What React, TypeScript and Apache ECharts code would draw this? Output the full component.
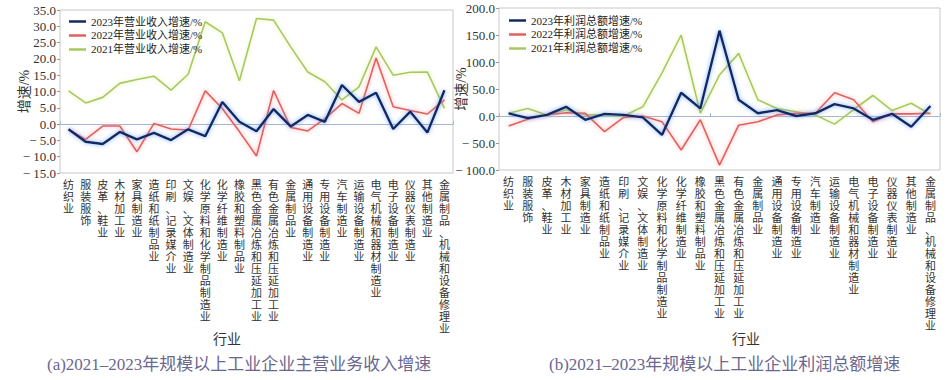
import React, { useEffect, useRef } from "react";
import * as echarts from "echarts";

const categories = [
  "纺织业", "服装服饰", "皮革、鞋业", "木材加工业", "家具制造业", "造纸和纸制品业",
  "印刷、记录媒介业", "文娱、文体制造业", "化学原料和化学制品制造业", "化学纤维制造业",
  "橡胶和塑料制品业", "黑色金属冶炼和压延加工业", "有色金属冶炼和压延加工业", "金属制品业",
  "通用设备制造业", "专用设备制造业", "汽车制造业", "运输设备制造业", "电气机械和器材制造业",
  "电子设备制造业", "仪器仪表制造业", "其他制造业", "金属制品、机械和设备修理业",
];

const revenue2023 = [-1.6, -5.4, -6.1, -2.4, -4.7, -2.7, -4.9, -1.6, -3.7, 6.8, 0.7, -2.2, 4.6, -0.7, 2.8, 0.7, 12.0, 6.8, 9.6, -1.5, 3.8, -2.6, 10.4];
const revenue2022 = [-1.6, -4.7, -0.6, -0.6, -8.5, 0.2, -1.5, -1.8, 10.2, 4.8, -2.3, -9.8, 10.3, -1.0, -2.1, 1.7, 6.3, 3.3, 20.3, 5.3, 4.2, 3.1, 7.4];
const revenue2021 = [10.2, 6.5, 8.2, 12.5, 13.7, 14.7, 10.4, 15.3, 31.4, 28.0, 13.3, 32.4, 31.9, 23.7, 16.0, 13.0, 7.4, 11.4, 23.7, 15.0, 15.9, 16.0, 4.8];

const profit2023 = [5, -4, 2, 17, -7, 4, 2, -2.5, -35, 43, 14, 158, 30, 5, 11, 0, 5, 22, 14, -7, 4, -20, 18.5];
const profit2022 = [-18.5, -6, 2, 6, 5, -29, -2.5, 0, -10.5, -63, -7, -91, -17, -10.5, 2, 5, 5, 43, 30, -10.5, 4, 4, 5];
const profit2021 = [5, 14, 2, 11, 2, 2, 0, 17, 80, 150, 5, 76, 116, 30, 14, 8, 2, -15, 12, 38, 10, 23.5, 3];

const revenueNames = ["2023年营业收入增速/%", "2022年营业收入增速/%", "2021年营业收入增速/%"];
const profitNames = ["2023年利润总额增速/%", "2022年利润总额增速/%", "2021年利润总额增速/%"];

const captionA = "(a)2021–2023年规模以上工业企业主营业务收入增速";
const captionB = "(b)2021–2023年规模以上工业企业利润总额增速";

const FONT = '"Liberation Serif", "Noto Sans CJK SC", serif';

export default function App() {
  const ref = useRef<HTMLDivElement>(null);
  useEffect(() => {
    document.body.style.margin = "0";
    const chart = echarts.init(ref.current!, null, { renderer: "svg" });

    const C2023 = "#17285e";
    const C2022 = "#e2605c";
    const C2021 = "#a8c860";

    const fmtY = (v: number) => (v < 0 ? "− " + Math.abs(v).toFixed(1) : v.toFixed(1));

    const labelAxis = (gridIndex: number) => ({
      type: "category",
      gridIndex,
      data: categories,
      position: "bottom",
      axisLine: { show: false, onZero: false },
      axisTick: { show: false },
      splitLine: { show: false },
      axisLabel: {
        interval: 0,
        margin: 6,
        fontFamily: FONT,
        fontSize: 11,
        lineHeight: 12,
        color: "#333",
        verticalAlign: "top",
        formatter: (v: string) => v.split("").join("\n"),
      },
    });
    const zeroAxis = (gridIndex: number) => ({
      type: "category",
      gridIndex,
      data: categories,
      position: "top",
      axisLine: { show: true, onZero: true, lineStyle: { color: "#a3b6d6", width: 1 } },
      axisTick: { show: true, inside: false, length: 3, lineStyle: { color: "#a3b6d6" } },
      axisLabel: { show: false },
      splitLine: { show: false },
    });
    const yAxis = (gridIndex: number, min: number, max: number, interval: number, nameGap: number) => ({
      type: "value",
      gridIndex,
      min,
      max,
      interval,
      name: "增速/%",
      nameLocation: "middle",
      nameGap,
      nameMoveOverlap: false,
      nameTextStyle: { fontFamily: FONT, fontSize: 14, color: "#333" },
      axisLine: { show: false },
      axisTick: { show: true, length: 3, lineStyle: { color: "#999" } },
      splitLine: { show: false },
      axisLabel: { margin: 4, fontFamily: FONT, fontSize: 13, color: "#333", formatter: fmtY },
    });

    const line = (name: string, data: number[], color: string, width: number, glow: string, xi: number, yi: number) => ({
      type: "line",
      name,
      data,
      xAxisIndex: xi,
      yAxisIndex: yi,
      symbol: "none",
      lineStyle: { color, width, shadowBlur: 4, shadowColor: glow },
      itemStyle: { color },
    });

    const legendBase = {
      orient: "vertical",
      icon: "rect",
      itemWidth: 17,
      itemHeight: 2.5,
      itemGap: 3,
      textStyle: { fontFamily: FONT, fontSize: 11, color: "#222" },
    };

    const option: any = {
      animation: false,
      grid: [
        { left: 60, top: 10, width: 393, height: 163, show: true, borderColor: "#c8c8c8", borderWidth: 1, backgroundColor: "transparent" },
        { left: 499, top: 8, width: 441, height: 162, show: true, borderColor: "#c8c8c8", borderWidth: 1, backgroundColor: "transparent" },
      ],
      xAxis: [labelAxis(0), zeroAxis(0), labelAxis(1), zeroAxis(1)],
      yAxis: [yAxis(0, -15, 35, 5, 29), yAxis(1, -100, 200, 50, 31)],
      legend: [
        { ...legendBase, data: revenueNames, left: 64, top: 11 },
        { ...legendBase, data: profitNames, left: 504, top: 10 },
      ],
      series: [
        line(revenueNames[2], revenue2021, C2021, 1.6, "rgba(220,240,150,0.8)", 0, 0),
        line(revenueNames[1], revenue2022, C2022, 1.6, "rgba(255,150,150,0.8)", 0, 0),
        line(revenueNames[0], revenue2023, C2023, 2.4, "rgba(80,150,255,0.8)", 0, 0),
        line(profitNames[2], profit2021, C2021, 1.6, "rgba(220,240,150,0.8)", 2, 1),
        line(profitNames[1], profit2022, C2022, 1.6, "rgba(255,150,150,0.8)", 2, 1),
        line(profitNames[0], profit2023, C2023, 2.4, "rgba(80,150,255,0.8)", 2, 1),
      ],
      graphic: [
        { type: "text", left: 213, top: 332, style: { text: "行业", font: `14px ${FONT}`, fill: "#333" } },
        { type: "text", left: 732, top: 332, style: { text: "行业", font: `14px ${FONT}`, fill: "#333" } },
        { type: "text", left: 47, top: 356, style: { text: captionA, font: `17px ${FONT}`, fill: "#6a6790" } },
        { type: "text", left: 549, top: 356, style: { text: captionB, font: `17px ${FONT}`, fill: "#6a6790" } },
      ],
    };
    chart.setOption(option);
    return () => chart.dispose();
  }, []);
  return <div ref={ref} style={{ width: 949, height: 380 }} />;
}
